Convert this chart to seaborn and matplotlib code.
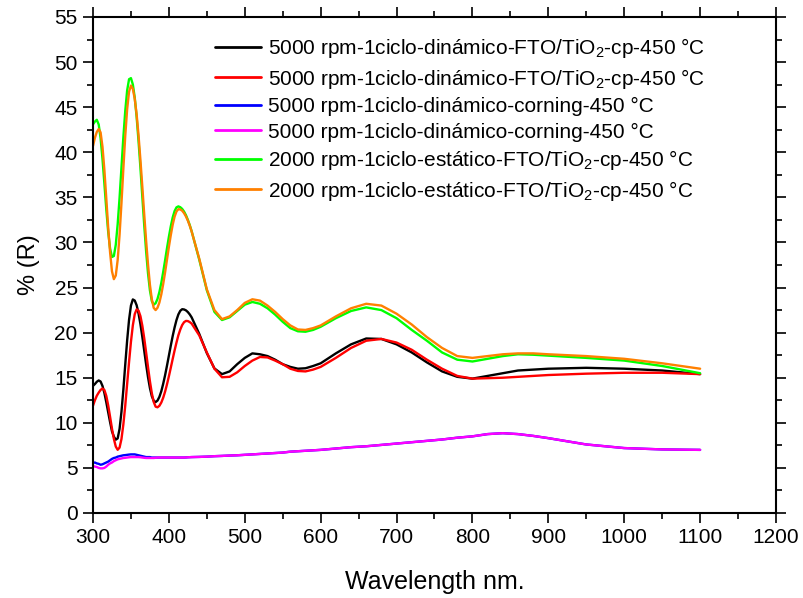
import matplotlib
matplotlib.use("Agg")
import matplotlib.pyplot as plt
from matplotlib.ticker import MultipleLocator
import seaborn as sns

wavelength = [300, 302.5, 305, 307.5, 310, 312.5, 315, 317.5, 320, 322.5,
              325, 327.5, 330, 332.5, 335, 337.5, 340, 342.5, 345, 347.5,
              350, 352.5, 355, 357.5, 360, 362.5, 365, 367.5, 370, 372.5,
              375, 377.5, 380, 382.5, 385, 387.5, 390, 392.5, 395, 397.5,
              400, 402.5, 405, 407.5, 410, 412.5, 415, 417.5, 420, 422.5,
              425, 427.5, 430,
              440, 450, 460, 470, 480, 490, 500, 510, 520, 530, 540, 550, 560, 570, 580, 590, 600,
              620, 640, 660, 680, 700, 720, 740, 760, 780, 800, 820, 840, 860, 880, 900,
              950, 1000, 1050, 1100]

r_5000_fto_a = [14.1, 14.3, 14.55, 14.7, 14.58, 14.09, 13.31, 12.29, 11.18, 10.08,
                9.06, 8.47, 8.13, 8.27, 9.33, 11.22, 13.68, 16.46, 19.14, 21.42,
                23.0, 23.68, 23.56, 23.04, 22.14, 20.94, 19.53, 18.0, 16.47, 15.06,
                13.86, 12.96, 12.44, 12.3, 12.47, 12.88, 13.5, 14.33, 15.28, 16.34,
                17.45, 18.56, 19.62, 20.57, 21.39, 22.02, 22.42, 22.6, 22.57, 22.47,
                22.28, 22.02, 21.69,
                19.86, 17.73, 16.03, 15.4, 15.7, 16.5, 17.2, 17.7, 17.6, 17.4, 17.0, 16.5, 16.2, 16.0, 16.05, 16.3, 16.6,
                17.7, 18.7, 19.35, 19.3, 18.7, 17.8, 16.7, 15.7, 15.1, 14.9, 15.2, 15.5, 15.8, 15.9, 16.0,
                16.1, 16.0, 15.8, 15.4]

r_5000_fto_b = [11.9, 12.5, 13.0, 13.35, 13.65, 13.8, 13.64, 12.99, 11.94, 10.67,
                9.35, 8.22, 7.37, 7.01, 7.25, 8.2, 9.82, 11.91, 14.32, 16.73,
                18.98, 20.81, 22.05, 22.58, 22.44, 21.83, 20.77, 19.38, 17.8, 16.17,
                14.61, 13.29, 12.32, 11.79, 11.72, 11.89, 12.25, 12.78, 13.46, 14.27,
                15.16, 16.11, 17.08, 18.02, 18.9, 19.71, 20.34, 20.84, 21.16, 21.3,
                21.28, 21.17, 21.0,
                19.7, 17.8, 16.0, 15.05, 15.1, 15.6, 16.3, 16.9, 17.3, 17.25, 16.9, 16.5, 16.0, 15.75, 15.7, 15.9, 16.2,
                17.2, 18.3, 19.1, 19.3, 18.9, 18.1, 17.0, 16.0, 15.2, 14.9, 14.95, 15.0, 15.1, 15.2, 15.3,
                15.45, 15.55, 15.55, 15.4]

r_5000_corning_a = [5.55, 5.6, 5.5, 5.45, 5.35, 5.4, 5.5, 5.6, 5.7, 5.85,
                    6.0, 6.1, 6.15, 6.25, 6.3, 6.35, 6.4, 6.42, 6.45, 6.48,
                    6.5, 6.5, 6.5, 6.45, 6.4, 6.35, 6.3, 6.25, 6.2, 6.2,
                    6.2, 6.15, 6.15, 6.15, 6.15, 6.15, 6.15, 6.15, 6.15, 6.15,
                    6.15, 6.15, 6.15, 6.15, 6.15, 6.15, 6.15, 6.15, 6.15, 6.16,
                    6.18, 6.19, 6.2,
                    6.22, 6.25, 6.3, 6.33, 6.37, 6.4, 6.45, 6.5, 6.55, 6.6, 6.65, 6.7, 6.8, 6.85, 6.9, 6.95, 7.0,
                    7.15, 7.3, 7.4, 7.55, 7.7, 7.85, 8.0, 8.15, 8.35, 8.5, 8.75, 8.85, 8.75, 8.55, 8.3,
                    7.6, 7.2, 7.05, 7.0]

r_5000_corning_b = [5.2, 5.15, 5.1, 5.0, 4.95, 4.95, 5.0, 5.15, 5.35, 5.5,
                    5.6, 5.75, 5.85, 5.95, 6.0, 6.05, 6.1, 6.12, 6.15, 6.18,
                    6.2, 6.2, 6.2, 6.2, 6.2, 6.18, 6.15, 6.12, 6.1, 6.1,
                    6.1, 6.1, 6.1, 6.12, 6.15, 6.15, 6.15, 6.15, 6.15, 6.15,
                    6.15, 6.15, 6.15, 6.15, 6.15, 6.15, 6.15, 6.15, 6.15, 6.16,
                    6.18, 6.19, 6.2,
                    6.22, 6.25, 6.3, 6.33, 6.37, 6.4, 6.45, 6.5, 6.55, 6.6, 6.65, 6.7, 6.8, 6.85, 6.9, 6.95, 7.0,
                    7.15, 7.3, 7.4, 7.55, 7.7, 7.85, 8.0, 8.15, 8.35, 8.5, 8.75, 8.85, 8.75, 8.55, 8.3,
                    7.6, 7.2, 7.05, 7.0]

r_2000_fto_a = [43.1, 43.4, 43.6, 43.08, 41.57, 39.27, 36.53, 33.7, 31.19, 29.33,
                28.39, 28.5, 29.74, 32.02, 34.94, 38.3, 41.66, 44.58, 46.86, 48.1,
                48.22, 47.52, 46.06, 43.92, 41.24, 38.27, 35.07, 31.92, 29.02, 26.58,
                24.69, 23.5, 23.1, 23.26, 23.74, 24.51, 25.52, 26.72, 28.02, 29.36,
                30.63, 31.79, 32.77, 33.48, 33.89, 34.0, 33.91, 33.72, 33.42, 33.02,
                32.5, 31.92, 31.24,
                28.1, 24.7, 22.3, 21.4, 21.7, 22.4, 23.1, 23.4, 23.2, 22.7, 22.0, 21.2, 20.5, 20.15, 20.1, 20.3, 20.65,
                21.6, 22.4, 22.8, 22.5, 21.6, 20.3, 19.1, 17.8, 17.0, 16.8, 17.1, 17.4, 17.6, 17.55, 17.45,
                17.2, 16.9, 16.3, 15.5]

r_2000_fto_b = [40.7, 41.6, 42.25, 42.58, 42.2, 40.61, 38.04, 34.9, 31.66, 28.91,
                26.8, 25.93, 26.33, 28.05, 30.85, 34.35, 38.18, 41.81, 44.78, 46.71,
                47.4, 47.03, 45.93, 44.19, 41.87, 39.13, 36.17, 33.11, 30.19, 27.55,
                25.31, 23.7, 22.75, 22.5, 22.76, 23.34, 24.24, 25.39, 26.69, 28.1,
                29.51, 30.81, 31.96, 32.86, 33.44, 33.69, 33.66, 33.52, 33.25, 32.88,
                32.42, 31.86, 31.21,
                28.2, 24.8, 22.5, 21.5, 21.8, 22.5, 23.3, 23.7, 23.55, 23.0, 22.3, 21.5, 20.8, 20.35, 20.3, 20.5, 20.8,
                21.8, 22.7, 23.2, 23.0, 22.1, 20.9, 19.5, 18.3, 17.4, 17.2, 17.4, 17.6, 17.7, 17.7, 17.6,
                17.4, 17.1, 16.6, 16.0]

series_labels = [
    r"5000 rpm-1ciclo-dinámico-FTO/TiO$_2$-cp-450 °C",
    r"5000 rpm-1ciclo-dinámico-FTO/TiO$_2$-cp-450 °C",
    "5000 rpm-1ciclo-dinámico-corning-450 °C",
    "5000 rpm-1ciclo-dinámico-corning-450 °C",
    r"2000 rpm-1ciclo-estático-FTO/TiO$_2$-cp-450 °C",
    r"2000 rpm-1ciclo-estático-FTO/TiO$_2$-cp-450 °C",
]
series_values = [r_5000_fto_a, r_5000_fto_b, r_5000_corning_a, r_5000_corning_b,
                 r_2000_fto_a, r_2000_fto_b]
series_colors = ["#000000", "#ff0000", "#0000ff", "#ff00ff", "#00ff00", "#ff8000"]

x_ticks = [300, 400, 500, 600, 700, 800, 900, 1000, 1100, 1200]
y_ticks = [0, 5, 10, 15, 20, 25, 30, 35, 40, 45, 50, 55]

sns.set_theme(style="ticks")
plt.rcParams["font.family"] = ["Liberation Sans", "DejaVu Sans"]
plt.rcParams["mathtext.fontset"] = "custom"
plt.rcParams["mathtext.rm"] = "Liberation Sans"
plt.rcParams["mathtext.it"] = "Liberation Sans:italic"
plt.rcParams["mathtext.bf"] = "Liberation Sans:bold"
for key in ["text.color", "axes.labelcolor", "xtick.color", "ytick.color", "axes.edgecolor"]:
    plt.rcParams[key] = "black"

fig = plt.figure(figsize=(8.04, 5.98), dpi=100)
ax = fig.add_axes([93 / 804, 85 / 598, 683 / 804, 496 / 598])

for lab, vals, col in zip(series_labels, series_values, series_colors):
    n = min(len(wavelength), len(vals))
    sns.lineplot(x=wavelength[:n], y=vals[:n], color=col, label=lab, linewidth=1.7, ax=ax)

ax.set_xlim(300, 1200)
ax.set_ylim(0, 55)
ax.set_xticks(x_ticks)
ax.set_yticks(y_ticks)
ax.xaxis.set_minor_locator(MultipleLocator(50))
ax.yaxis.set_minor_locator(MultipleLocator(2.5))
ax.tick_params(which="both", direction="out", top=True, right=True, color="black", width=1.2)
ax.tick_params(which="major", length=7, labelsize=15, pad=4, labelcolor="black")
ax.tick_params(which="minor", length=4)
for sp in ax.spines.values():
    sp.set_visible(True)
    sp.set_linewidth(1.5)
    sp.set_color("black")

ax.set_xlabel("Wavelength nm.", fontsize=18, labelpad=16, color="black")
ax.set_ylabel("% (R)", fontsize=17, labelpad=10, color="black")

leg = ax.legend(loc="upper left", bbox_to_anchor=(0.166, 0.978), frameon=False,
                fontsize=15, handlelength=2.2, handletextpad=0.35, labelspacing=0.31,
                borderaxespad=0.0)
for line in leg.get_lines():
    line.set_linewidth(2.0)
for t in leg.get_texts():
    t.set_color("black")

fig.savefig("out.png", dpi=100)
